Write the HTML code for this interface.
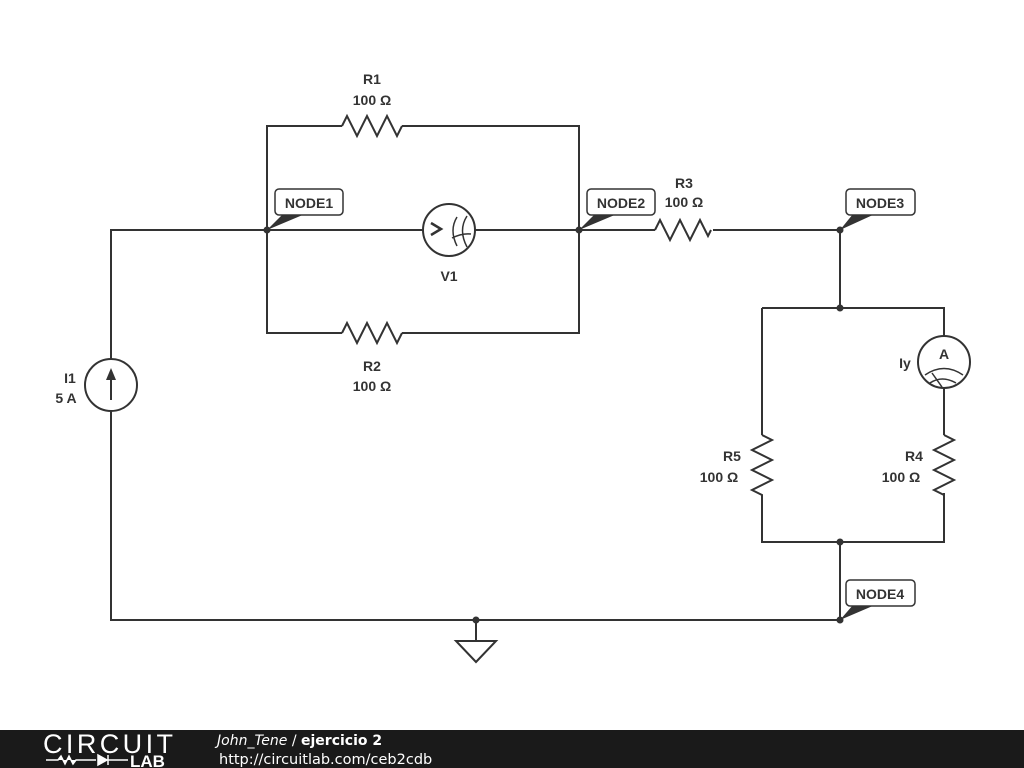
<!DOCTYPE html>
<html><head><meta charset="utf-8"><style>
body{margin:0;width:1024px;height:768px;background:#fff;overflow:hidden}
svg{display:block}
text{font-family:"Liberation Sans","DejaVu Sans",sans-serif;fill:#333;font-weight:bold;font-size:14px}
</style></head><body>
<svg width="1024" height="768" viewBox="0 0 1024 768">
<g stroke="#333" stroke-width="2" fill="none">
<path d="M111 359 V230 H423 M475 230 H655 M713 230 H840 V308"/>
<path d="M111 411 V620 H840 V542"/>
<path d="M267 230 V126 H342 M402 126 H579 V230"/>
<path d="M267 230 V333 H342 M402 333 H579 V230"/>
<path d="M342 126 l5 -10 l10 20 l10 -20 l10 20 l10 -20 l10 20 l5 -10"/>
<path d="M342 333 l5 -10 l10 20 l10 -20 l10 20 l10 -20 l10 20 l5 -10"/>
<path d="M655 230 l5 -10 l10 20 l10 -20 l10 20 l10 -20 l8 16 l3 -6"/>
<path d="M762 308 H944 V336 M944 388 V435 M762 308 V435"/>
<path d="M762 435 l10 5 l-20 10 l20 10 l-20 10 l20 10 l-20 10 l10 5 V542 H944 V493"/>
<path d="M944 435 l10 5 l-20 10 l20 10 l-20 10 l20 10 l-20 10 l10 5"/>
<path d="M476 620 V641 M456 641 H496 L476 662 Z"/>
<circle cx="111" cy="385" r="26"/>
<circle cx="449" cy="230" r="26"/>
<circle cx="944" cy="362" r="26"/>
<path d="M111 400 V372" />
<path d="M457 217 q-8 13 0 29 M467 216 q-9 14 0 31 M452 238 q10 -5 19 -4" stroke-width="1.5"/>
<path d="M925 375 q19 -13 38 0 M930 383 q12 -8 26 0 M932 373 l10 14" stroke-width="1.5"/>
<path d="M431 223 l10 6 l-10 6" stroke-width="2.5"/>
</g>
<path d="M111 368 l-5 12 h10 z" fill="#333"/>
<text x="944" y="359" text-anchor="middle" font-size="18">A</text>
<g fill="#333">
<circle cx="267" cy="230" r="3.5"/><circle cx="579" cy="230" r="3.5"/>
<circle cx="840" cy="230" r="3.5"/><circle cx="840" cy="308" r="3.5"/>
<circle cx="840" cy="542" r="3.5"/><circle cx="840" cy="620" r="3.5"/>
<circle cx="476" cy="620" r="3.5"/>
<path d="M267 230 L283 214 H305 Z"/>
<path d="M579 230 L595 214 H617 Z"/>
<path d="M840 230 L853 214 H875 Z"/>
<path d="M840 620 L853 605 H875 Z"/>
</g>
<g fill="#fff" stroke="#333" stroke-width="1.5">
<rect x="275" y="189" width="68" height="26" rx="4"/>
<rect x="587" y="189" width="68" height="26" rx="4"/>
<rect x="846" y="189" width="69" height="26" rx="4"/>
<rect x="846" y="580" width="69" height="26" rx="4"/>
</g>
<text x="309" y="208" text-anchor="middle">NODE1</text>
<text x="621" y="208" text-anchor="middle">NODE2</text>
<text x="880" y="208" text-anchor="middle">NODE3</text>
<text x="880" y="599" text-anchor="middle">NODE4</text>
<text x="372" y="84" text-anchor="middle">R1</text>
<text x="372" y="105" text-anchor="middle">100 Ω</text>
<text x="372" y="371" text-anchor="middle">R2</text>
<text x="372" y="391" text-anchor="middle">100 Ω</text>
<text x="684" y="188" text-anchor="middle">R3</text>
<text x="684" y="207" text-anchor="middle">100 Ω</text>
<text x="449" y="281" text-anchor="middle">V1</text>
<text x="70" y="383" text-anchor="middle">I1</text>
<text x="66" y="403" text-anchor="middle">5 A</text>
<text x="905" y="368" text-anchor="middle">Iy</text>
<text x="732" y="461" text-anchor="middle">R5</text>
<text x="719" y="482" text-anchor="middle">100 Ω</text>
<text x="914" y="461" text-anchor="middle">R4</text>
<text x="901" y="482" text-anchor="middle">100 Ω</text>
<rect x="0" y="730" width="1024" height="38" fill="#1a1a1a"/>
<text x="43" y="753" textLength="130" style="fill:#fff;font-weight:normal;font-size:27px">CIRCUIT</text>
<path d="M46 760 h12 l3 -4 l4 8 l4 -8 l4 8 l3 -4 h20 M98 755 v10 l9 -5 z M108 755 v10 M108 760 h20" stroke="#fff" stroke-width="1.5" fill="#fff"/>
<text x="130" y="767" style="fill:#fff;font-size:17px">LAB</text>
<text x="217" y="745" style="fill:#fff;font-weight:normal;font-size:14px;font-family:'DejaVu Sans',sans-serif"><tspan font-style="italic">John_Tene</tspan> / <tspan font-weight="bold">ejercicio 2</tspan></text>
<text x="219" y="764" style="fill:#fff;font-weight:normal;font-size:14.5px;font-family:'DejaVu Sans',sans-serif">http://circuitlab.com/ceb2cdb</text>
</svg>
</body></html>
